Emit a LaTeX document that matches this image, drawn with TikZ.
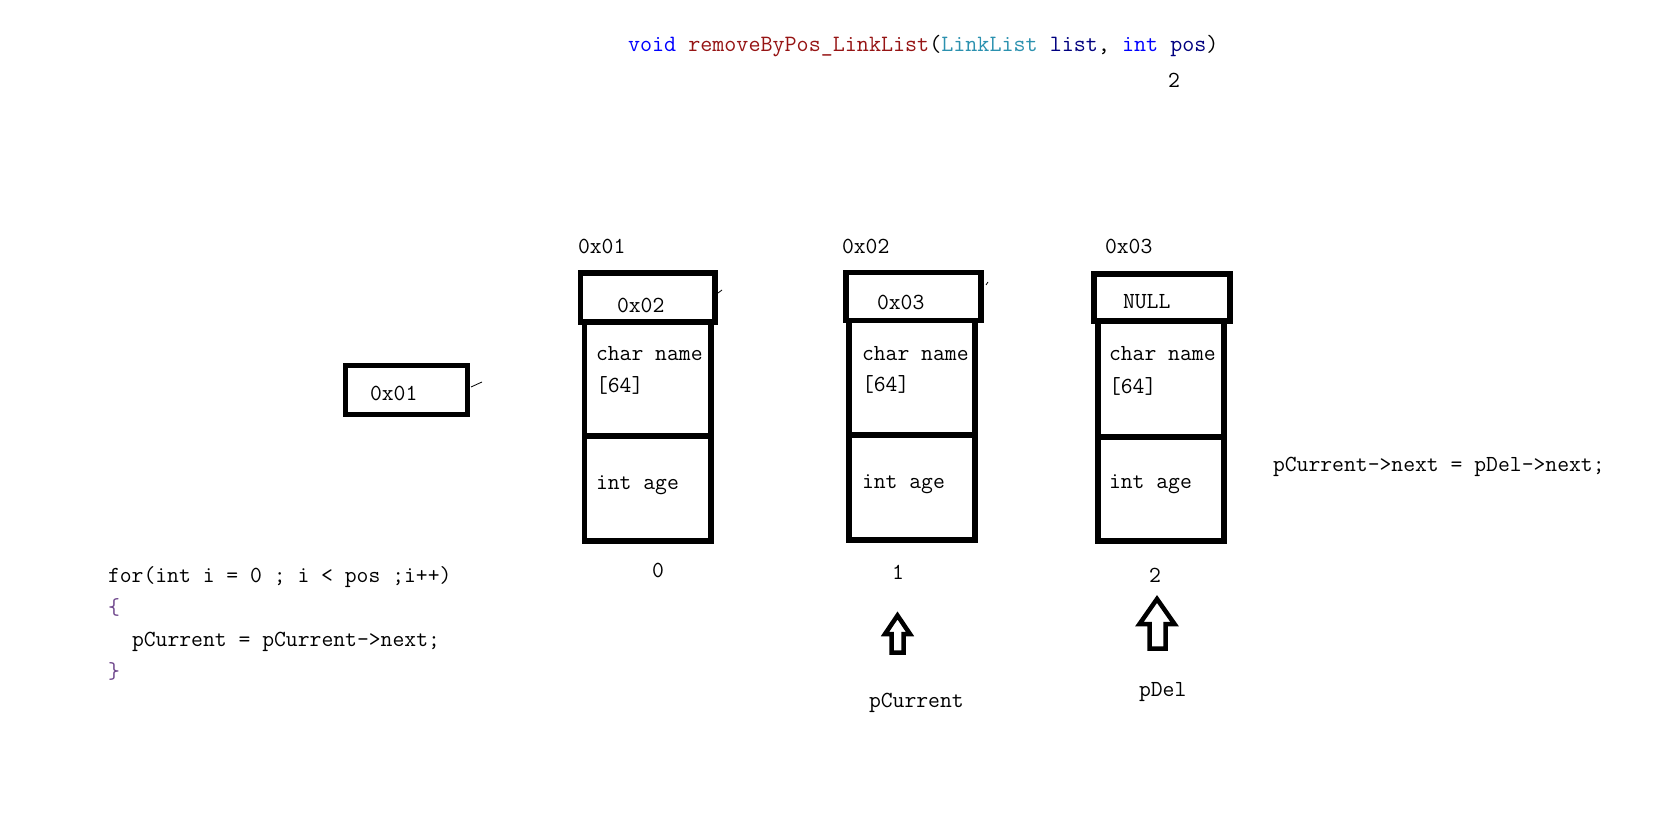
\documentclass[tikz,border=0pt]{standalone}
\usepackage{fontspec}
\definecolor{kwblue}{RGB}{0,0,255}
\definecolor{fnred}{RGB}{150,20,20}
\definecolor{tyteal}{RGB}{43,145,175}
\definecolor{parnavy}{RGB}{0,0,128}
\definecolor{brpurple}{RGB}{110,70,140}
\tikzset{
  txt/.style={inner sep=0pt, outer sep=0pt, font=\ttfamily\fontsize{23}{27}\selectfont, text=black},
  cell/.style={draw=black, line width=5.5pt, inner sep=0pt, minimum width=#1},
  ptr/.style={draw=black, line width=4.5pt, line join=miter, fill=white},
  tick/.style={draw=black, line width=0.8pt}
}
\begin{document}
\begin{tikzpicture}[x=1pt,y=-1pt]
\useasboundingbox (0,0) rectangle (1674,830);
\fill[white] (0,0) rectangle (1674,830);

% title
\node[txt, anchor=base west, font=\ttfamily\fontsize{23.4}{27}\selectfont] (title) at (628,51) {\textcolor{kwblue}{void} \textcolor{fnred}{removeByPos\_LinkList}\textcolor{black}{(}\textcolor{tyteal}{LinkList} \textcolor{parnavy}{list}, \textcolor{kwblue}{int} \textcolor{parnavy}{pos}\textcolor{black}{)}};
\node[txt] (pos2) at (1174,80) {2};

% head pointer box
\node[cell=122pt, minimum height=49pt, line width=5pt] (head) at (406,389.5) {};
\node[txt, anchor=base west] (headtxt) at (370,400) {0x01};
\coordinate (h1) at (471,387); \coordinate (h2) at (482,382);
\draw[tick] (h1) -- (h2);

% node 0
\node[txt, anchor=base west] (addr0) at (578,253) {0x01};
\node[cell=134.5pt, minimum height=49pt] (next0) at (647.75,297.5) {};
\node[cell=126.5pt, minimum height=114pt] (name0) at (647.75,379) {};
\node[cell=126.5pt, minimum height=105pt] (age0) at (647.75,488.5) {};
\node[txt, anchor=base west] (next0t) at (617,312) {0x02};
\node[txt, anchor=base west] (name0t) at (596,360) {char name};
\node[txt, anchor=base west] (arr0t) at (596,392) {[64]};
\node[txt, anchor=base west] (age0t) at (596,489) {int age};
\node[txt] (idx0) at (658,570) {0};
\coordinate (t0a) at (718,293); \coordinate (t0b) at (722,290);
\draw[tick] (t0a) -- (t0b);

% node 1
\node[txt, anchor=base west] (addr1) at (842,253) {0x02};
\node[cell=135pt, minimum height=48pt] (next1) at (913.5,296.5) {};
\node[cell=126pt, minimum height=115pt] (name1) at (912,378) {};
\node[cell=126pt, minimum height=105pt] (age1) at (912,487.5) {};
\node[txt, anchor=base west] (next1t) at (877,309) {0x03};
\node[txt, anchor=base west] (name1t) at (862,360) {char name};
\node[txt, anchor=base west] (arr1t) at (862,391) {[64]};
\node[txt, anchor=base west] (age1t) at (862,488) {int age};
\node[txt] (idx1) at (898,572) {1};
\coordinate (t1a) at (986,285); \coordinate (t1b) at (988,282);
\draw[tick] (t1a) -- (t1b);

% node 2
\node[txt, anchor=base west] (addr2) at (1105,253) {0x03};
\node[cell=136pt, minimum height=47pt] (next2) at (1162,297.5) {};
\node[cell=126pt, minimum height=116pt] (name2) at (1161,379) {};
\node[cell=126pt, minimum height=104pt] (age2) at (1161,489) {};
\node[txt, anchor=base west] (next2t) at (1123,308) {NULL};
\node[txt, anchor=base west] (name2t) at (1109,360) {char name};
\node[txt, anchor=base west] (arr2t) at (1109,393) {[64]};
\node[txt, anchor=base west] (age2t) at (1109,488) {int age};
\node[txt] (idx2) at (1155,575) {2};

% pointer arrows
\draw[ptr] (897.5,615.5) -- (910,634) -- (903.5,634) -- (903.5,652.5) -- (891.5,652.5) -- (891.5,634) -- (885,634) -- cycle;
\node[txt, anchor=base west] (pcur) at (869,707) {pCurrent};
\draw[ptr] (1157,599) -- (1174.5,624) -- (1165.5,624) -- (1165.5,648.5) -- (1149.5,648.5) -- (1149.5,624) -- (1139.5,624) -- cycle;
\node[txt, anchor=base west] (pdel) at (1139,696) {pDel};

% statement
\node[txt, anchor=base west] (stmt) at (1273,471) {pCurrent->next = pDel->next;};

% for loop
\node[txt, anchor=base west] (for1) at (108,582) {for(int i = 0 ; i < pos ;i++)};
\node[txt, anchor=base west, text=brpurple] (for2) at (108,614) {\{};
\node[txt, anchor=base west] (for3) at (132,646) {pCurrent = pCurrent->next;};
\node[txt, anchor=base west, text=brpurple] (for4) at (108,678) {\}};
\end{tikzpicture}
\end{document}
